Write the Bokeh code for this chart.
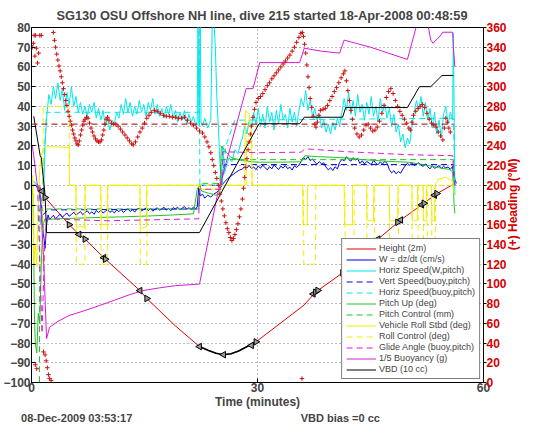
import numpy as np
from bokeh.plotting import figure
from bokeh.models import Range1d, LinearAxis, Legend, LegendItem, FixedTicker
from bokeh.embed import file_html
from bokeh.resources import INLINE

# ---------------- data ----------------
TITLE = "SG130 OSU Offshore NH line, dive 215 started 18-Apr-2008 00:48:59"
X_LABEL = "Time (minutes)"
HDG_LABEL = "(+) Heading (\u00b0M)"
NOTE_DATE = "08-Dec-2009 03:53:17"
NOTE_VBD = "VBD bias =0 cc"
X_TICKS = [0, 30, 60]
Y_TICKS = list(range(-100, 81, 10))
HDG_TICKS = list(range(0, 361, 20))

HEIGHT = [(1.0, 0), (1.4, -3.0), (1.8, -6.2), (5.0, -20.0), (6.3, -24.9), (7.1, -27.3), (9.7, -37.1),
          (14.4, -53.4), (15.3, -57.4), (19.1, -71.3), (22.3, -81.8), (23.5, -83.8), (24.5, -85.2),
          (25.5, -85.9), (26.5, -85.4), (27.5, -84.0), (28.5, -82.0), (29.8, -79.4), (36.2, -60.7),
          (37.7, -54.2), (41.3, -44.4), (46.0, -27.3), (49.0, -17.6), (52.0, -9.4), (53.7, -4.5), (55.9, 0.3)]
APOGEE = [(22.3, -81.8), (23.5, -83.8), (24.5, -85.2), (25.5, -85.9), (26.5, -85.4), (27.5, -84.0),
          (28.5, -82.0), (29.8, -79.4)]
TRI_LEFT = [(1.4, -3.0), (6.3, -24.9), (9.6, -36.7), (14.4, -53.4), (22.3, -81.8), (25.5, -85.9),
            (29.2, -81.2), (37.4, -55.1), (46.0, -27.3), (49.0, -17.6), (51.8, -9.9), (53.5, -5.0)]
TRI_RIGHT = [(1.8, -6.2), (5.0, -20.0), (7.1, -27.3), (9.8, -37.5), (15.3, -57.4), (29.8, -79.4),
             (37.7, -54.2), (38.0, -53.3), (41.3, -44.4), (48.6, -18.8), (52.1, -9.1), (53.8, -4.2)]

# W = dz/dt
W_START = [(0.0, 0), (0.6, 0), (1.0, -3), (1.3, -12), (1.6, -25), (1.8, -32), (2.0, -20), (2.2, -15), (2.4, -17.6)]
W_DESC_T0, W_STEP = 2.6, 0.3
W_DESC = [-16.5, -15.2, -17.0, -15.8, -14.6, -16.2, -15.0, -14.1, -15.7, -14.8,
          -13.6, -15.1, -14.2, -13.3, -14.9, -13.8, -12.9, -14.4, -13.5, -14.7,
          -12.8, -13.9, -12.6, -14.1, -13.2, -12.4, -13.7, -12.9, -14.0, -12.5,
          -13.4, -12.2, -13.8, -12.7, -11.9, -13.3, -12.4, -13.6, -12.1, -11.6,
          -13.0, -12.3, -11.5, -12.9, -11.8, -13.1, -12.2, -11.4, -12.7, -11.9,
          -11.2, -12.6, -11.7, -12.9, -11.3, -12.0, -11.1, -12.4, -11.6, -10.8,
          -12.1, -11.4, -12.3, -11.0, -11.8]
W_APO = [(22.0, -11), (22.2, -1.3), (22.4, -5.4), (22.7, -4.5), (23.0, -6.5), (23.4, -5.0), (23.8, -6.0),
         (24.2, -4.5), (24.6, -3.5), (25.0, -2.0), (25.3, 0.3), (25.7, 2.0), (26.1, 3.6), (26.6, 5.0),
         (27.1, 6.5), (27.6, 7.7)]
W_ASC_T0 = 28.0
W_ASC = [8.2, 9.6, 8.8, 10.1, 8.5, 9.3, 7.9, 9.8, 8.6, 10.2, 8.9, 7.8, 9.5, 8.3, 10.4, 9.1, 8.0, 9.7, 8.7, 10.0,
         8.4, 9.2, 7.7, 9.9, 9.0, 10.3,
         12.1, 14.2, 13.0, 14.6, 12.5, 13.4,
         11.8, 10.6, 12.0, 10.9, 11.4,
         9.2, 7.8, 8.9, 7.5, 9.4, 8.3,
         11.6, 13.2, 12.4, 14.5, 13.1, 12.2, 14.0, 12.8, 13.6,
         11.0, 12.4, 10.8, 12.1, 11.3, 10.5, 12.6, 11.2, 10.4, 11.9, 10.7, 12.2, 11.1,
         8.0, 6.3, 7.4, 5.8, 7.0, 6.1, 8.2,
         9.8, 11.2, 10.1, 11.6, 9.9, 10.8, 11.4, 10.2, 9.6, 10.9,
         9.4, 8.3, 9.9, 8.6, 9.2, 10.0, 8.5, 9.6, 8.8, 9.3, 8.1, 9.5]
W_END = [(56.0, 6), (56.2, 3), (56.4, 1)]

# Horizontal speed (W, pitch)
HS_START = [(0.2, 2), (0.6, 1), (1.0, -2), (1.3, -8), (1.6, -4), (1.8, 20)]
HS_DESC_T0, HS_STEP = 2.0, 0.3
HS_DESC = [34, 46, 41, 50, 44, 52, 43, 49, 38, 47,
           41, 50, 40, 45, 37, 42, 36, 40, 35, 41,
           37, 42, 34, 39, 33, 38, 30, 34, 28, 33,
           31, 37, 34, 41, 36, 44, 37, 42, 35, 40,
           36, 43, 37, 41, 35, 42, 38, 44, 36, 41,
           35, 39, 34, 40, 36, 41, 34, 38, 32, 37,
           33, 38, 31, 36, 32, 35, 30]
HS_APO = [(22.0, 33), (22.1, 85), (22.25, 30), (22.4, 85), (22.5, 32), (22.7, 30), (23.0, 34), (23.4, 29),
          (23.8, 33), (24.0, 85), (24.2, 85), (24.4, 70), (24.6, 45), (24.8, 30), (25.0, 12), (25.2, 2),
          (25.4, 20), (25.6, 6), (25.9, 10), (26.2, 14), (26.6, 12), (27.0, 18), (27.4, 16), (27.8, 22)]
HS_ASC_T0 = 28.0
HS_ASC = [24, 30, 26, 33, 29, 37, 31, 39, 30, 36,
          29, 40, 32, 37, 28, 38, 31, 41, 33, 36,
          29, 39, 32, 37, 30, 38, 44, 40, 48, 38,
          43, 35, 39, 33, 36, 29, 33, 27, 31, 26,
          32, 28, 34, 30, 37, 44, 38, 47, 36, 43,
          35, 46, 37, 41, 33, 42, 36, 45, 35, 40,
          32, 44, 37, 41, 34, 39, 30, 36, 27, 31,
          22, 26, 19, 24, 21, 30, 37, 43, 38, 45,
          35, 42, 33, 39, 29, 37, 26, 33, 24, 36,
          40, 31, 37, 33]
HS_END = [(56.0, 77), (56.1, 40), (56.2, -5)]

VERT_BUOY = [(1.0, 0), (1.5, -15), (2.2, -12.5), (22.2, -12), (22.4, 0), (25.2, 0), (25.6, 10.5),
             (56.0, 10.5), (56.2, 0)]
HS_BUOY = [(0.8, 0), (1.2, -20), (1.6, 10), (2.0, 37), (22.2, 37), (22.25, 85), (22.35, 0), (25.3, 0),
           (25.8, 20), (27.0, 33), (56.0, 34), (56.2, 0)]
PITCH = [(0.0, 0), (0.2, -5), (0.4, -68), (0.5, -80), (0.7, -85), (0.9, -65), (1.1, -70), (1.3, -40),
         (1.5, -20), (1.8, -17), (2.2, -17.5), (3, -17), (5, -16.8), (8, -16.4), (12, -16), (16, -15.5),
         (19, -15), (21.5, -14.5), (22.0, -2), (22.3, 0.3), (22.6, -3), (23.5, -4), (24.5, -5),
         (25.0, -4.5), (25.2, 19.9), (25.6, 18), (26.5, 14), (28, 12.5), (30, 11.7), (33, 11.7),
         (35.8, 11.9), (36.3, 15), (38, 14.5), (40, 14.2), (42, 13.8), (44, 13), (46, 12.5), (48, 12),
         (50, 11.7), (52, 10.5), (54, 9), (55.5, 8), (55.9, 6.8), (56.1, -10), (56.2, -14.3)]
PITCH_CTRL = [(1.05, -110), (1.1, -12), (22.2, -12), (22.4, 1), (25.0, 1), (25.2, 13), (56.0, 13), (56.1, 0)]
ROLL = [(0.0, 0), (0.15, 5), (0.3, -40), (0.5, -30), (0.7, -41), (0.9, -10), (1.1, 8), (1.3, 15), (1.6, 19),
        (2.0, 19.5), (3.5, 19.5), (5.0, 19), (5.05, 0), (5.9, 0), (5.95, -21), (7.05, -21), (7.1, 0),
        (9.2, 0), (9.25, -20), (10.05, -20), (10.1, 0), (14.4, 0), (14.45, -22), (15.25, -21), (15.3, 0),
        (22.2, 0), (22.4, -2), (25.4, -2), (25.6, 0), (28.3, 0), (28.4, 38), (28.9, 36), (29.0, 30),
        (29.2, 28), (29.3, 0), (36.0, 0), (36.05, -20), (36.6, -20), (36.65, 0), (41.5, 0), (41.55, -20),
        (42.6, -20), (42.65, 0), (44.5, 0), (44.55, -18), (45.4, -18), (45.45, 0), (47.5, 0), (47.55, -18),
        (48.6, -18), (48.65, 0), (50.5, 0), (50.55, -18), (51.2, -18), (51.25, 0), (52.0, 0), (52.05, -18),
        (52.4, -18), (52.45, 0), (53.1, 0), (53.15, -18), (53.5, -18), (53.55, 0), (54.0, 3), (55.0, 4),
        (55.9, 2), (56.1, -5)]
ROLL_CTRL = [(0.0, 0), (0.3, 0), (0.35, -40), (1.5, -40), (1.55, 40), (5.0, 40), (5.05, 0), (5.9, 0),
             (5.95, -40), (7.1, -40), (7.15, 0), (9.2, 0), (9.25, -40), (10.1, -40), (10.15, 0), (14.4, 0),
             (14.45, -40), (15.3, -40), (15.35, 0), (28.5, 0), (28.55, 25), (29.2, 25), (29.25, 0), (36.1, 0),
             (36.15, -40), (37.7, -40), (37.75, 0), (41.6, 0), (41.65, -40), (42.8, -40), (42.85, 0),
             (44.5, 0), (44.55, -40), (45.5, -40), (45.55, 0), (47.5, 0), (47.55, -40), (48.7, -40),
             (48.75, 0), (50.5, 0), (50.55, -40), (51.3, -40), (51.35, 0), (52.0, 0), (52.05, -40),
             (52.5, -40), (52.55, 0), (53.1, 0), (53.15, -40), (53.6, -40), (53.65, 0), (56.0, 0)]
GLIDE = [(0.8, 0), (1.1, -40), (1.4, -75), (1.7, -35), (2.0, -17), (10, -18), (22.2, -17), (22.3, -2),
         (25.2, -2), (25.4, 17), (30, 16.5), (35.8, 16.8), (36.3, 18.5), (42, 17), (50, 15.5), (55.9, 15),
         (56.2, 0)]
BUOY = [(0.1, 20), (0.3, 15), (0.73, 1.2), (1.15, -4.5), (1.6, -37), (2.0, -77.8), (2.4, -72), (3.5, -69),
        (5, -66), (6.7, -64), (9, -61), (11, -58.3), (13, -55.5), (14.8, -53.4), (17, -52), (19.1, -50.9),
        (22.3, -50.1), (24.7, -4.5), (28.5, 49), (29.4, 49), (30.3, 62.2), (35.6, 62.2), (36.2, 69.5),
        (38.5, 68), (40.9, 67), (41.5, 73.6), (45, 70), (49.9, 63.8), (51.4, 85), (51.7, 85), (52.6, 82),
        (53.0, 73.6), (53.3, 72), (53.7, 73.6), (54.1, 75), (54.6, 77.6), (55.9, 77.6), (56.0, 70),
        (56.2, 60)]
VBD = [(0.3, 35), (1.15, 15), (1.3, 14), (1.8, -5), (2.0, -24), (22.3, -24), (30.2, 31.2), (35.6, 31.2),
       (36.2, 34.5), (41.3, 34.5), (41.7, 39.4), (49.9, 39.4), (51.5, 50), (53.0, 50), (54.5, 55.7),
       (56.0, 55.7)]
HDG_TARGET = [(0.0, 262), (56.0, 262)]
HEADING = [(0.1, 340), (0.25, 344), (0.35, 352), (0.45, 331), (0.55, 352), (0.65, 339), (0.8, 324),
           (0.95, 334), (1.1, 352), (1.3, 352), (0.5, 18), (0.7, 14),
           (1.6, 31), (1.8, 28), (1.95, 22), (2.1, 15), (2.25, 8), (2.4, 4), (2.6, 2),
           (2.9, 355), (3.05, 347), (3.2, 340), (3.35, 333), (3.5, 327), (3.65, 321), (3.8, 316), (3.95, 310),
           (4.1, 304), (4.25, 298), (4.4, 292), (4.55, 286), (4.7, 281), (4.85, 275), (5.0, 270), (5.15, 265),
           (5.3, 261), (5.45, 256), (5.6, 252), (5.75, 248), (5.9, 245), (6.05, 242), (6.2, 241), (6.35, 245),
           (6.5, 251), (6.65, 256), (6.8, 261), (6.95, 265), (7.1, 267), (7.3, 269), (7.5, 268), (7.7, 263),
           (7.9, 258), (8.1, 254), (8.3, 250), (8.5, 247), (8.7, 245), (8.9, 244), (9.1, 244), (9.3, 246),
           (9.45, 251), (9.6, 256), (9.75, 262), (9.9, 267), (10.1, 269), (10.3, 266), (10.6, 263),
           (10.9, 262), (11.2, 262), (11.5, 260), (11.8, 257), (12.1, 254), (12.4, 251), (12.7, 248),
           (13.0, 245), (13.3, 242), (13.5, 241), (13.8, 244), (14.1, 249), (14.4, 254), (14.7, 258),
           (15.0, 263), (15.3, 268), (15.6, 271), (15.9, 274), (16.3, 276), (16.7, 275), (17.1, 273),
           (17.5, 271), (17.9, 270), (18.3, 270), (18.7, 269), (19.1, 269), (19.5, 268), (19.9, 268),
           (20.3, 269), (20.7, 266), (21.1, 263), (21.5, 261), (21.9, 258), (22.3, 255), (22.7, 253),
           (23.0, 249), (23.3, 244), (23.55, 239), (23.8, 233), (24.0, 226), (24.2, 220), (24.4, 213),
           (24.6, 207), (24.8, 200), (25.0, 191), (25.2, 184), (25.4, 176), (25.6, 169), (25.8, 162),
           (26.0, 156), (26.2, 152), (26.4, 147), (26.6, 144), (26.8, 146), (27.0, 150), (27.2, 155),
           (27.4, 161), (27.6, 168), (27.8, 176), (28.0, 186), (28.15, 197), (28.3, 208), (28.45, 218),
           (28.6, 227), (28.75, 236), (28.9, 244), (29.05, 252), (29.2, 260), (29.4, 269), (29.6, 277),
           (29.8, 284), (30.1, 288), (30.4, 290), (30.7, 293), (31.0, 297), (31.3, 301), (31.6, 304),
           (31.9, 308), (32.2, 311), (32.5, 314), (32.8, 317), (33.1, 320), (33.4, 323), (33.7, 326),
           (34.0, 329), (34.3, 332), (34.6, 336), (34.9, 340), (35.2, 345), (35.5, 350), (35.75, 354),
           (35.95, 355), (36.1, 351), (36.25, 343), (36.4, 334), (36.55, 322), (36.7, 310), (36.85, 299),
           (37.0, 288), (37.2, 279), (37.4, 270), (37.6, 262), (37.75, 259), (37.95, 264), (38.15, 271),
           (38.35, 276), (38.7, 277), (39.0, 278), (39.3, 281), (39.6, 286), (39.9, 290), (40.2, 295),
           (40.5, 299), (40.8, 304), (41.1, 309), (41.4, 313), (41.6, 316),
           (41.8, 306), (42.0, 296), (42.2, 286), (42.4, 276), (42.6, 267), (42.9, 258), (43.2, 252),
           (43.5, 249), (43.8, 251), (44.1, 256), (44.4, 261), (44.7, 262), (45.0, 258), (45.3, 255),
           (45.6, 256), (45.9, 259), (46.2, 265), (46.5, 273), (46.8, 281), (47.1, 289), (47.4, 295),
           (47.7, 298), (48.0, 293), (48.3, 286), (48.6, 280), (48.9, 275), (49.2, 271), (49.5, 267),
           (49.8, 263), (50.1, 258), (50.3, 256), (50.5, 264), (50.7, 271), (51.0, 275), (51.3, 278),
           (51.6, 280), (51.9, 282), (52.2, 279), (52.5, 273), (52.8, 267), (53.1, 263), (53.4, 261),
           (53.7, 259), (54.0, 254), (54.3, 250), (54.6, 246), (54.8, 258), (55.0, 268), (55.2, 264),
           (55.4, 258), (55.6, 254), (35.9, 4)]

# ---------------- helpers ----------------
def unz(pairs):
    a = np.array(pairs, dtype=float)
    return a[:, 0], a[:, 1]

def grid_series(t0, step, vals):
    return t0 + step * np.arange(len(vals)), np.array(vals, dtype=float)

def join(*parts):
    xs = np.concatenate([q[0] for q in parts])
    ys = np.concatenate([q[1] for q in parts])
    return xs, ys

FONT = "Liberation Sans"
RED = "#e00000"
LBLRED = "#d40000"
BLUE = "#0000e6"
CYAN = "#00e8e8"
GREEN = "#22c422"
YELLOW = "#f0f000"
MAGENTA = "#d81ad8"

p = figure(width=530, height=426, output_backend="svg", toolbar_location=None,
           x_range=Range1d(0, 60), y_range=Range1d(-100, 80),
           min_border_left=25, min_border_right=38, min_border_top=27, min_border_bottom=36,
           background_fill_color="white", border_fill_color="white")
p.extra_y_ranges = {"hdg": Range1d(0, 360)}
p.outline_line_color = "black"
p.outline_line_width = 1

p.title.text = TITLE
p.title.align = "left"
p.title.offset = 25
p.title.text_font = FONT
p.title.text_font_style = "bold"
p.title.text_font_size = "12.8px"
p.title.standoff = 10

# axes
xa = p.xaxis[0]
xa.ticker = FixedTicker(ticks=X_TICKS)
xa.axis_label = X_LABEL
xa.axis_label_text_font = FONT
xa.axis_label_text_font_style = "bold"
xa.axis_label_text_font_size = "12px"
xa.axis_label_standoff = 0
xa.major_label_text_font = FONT
xa.major_label_text_font_style = "bold"
xa.major_label_text_font_size = "12px"
xa.major_label_standoff = 0
xa.major_tick_in = 4
xa.major_tick_out = 0
xa.minor_tick_line_color = None

ya = p.yaxis[0]
ya.ticker = FixedTicker(ticks=Y_TICKS)
ya.major_label_text_font = FONT
ya.major_label_text_font_style = "bold"
ya.major_label_text_font_size = "12px"
ya.major_label_standoff = 1
ya.major_tick_in = 4
ya.major_tick_out = 0
ya.minor_tick_line_color = None

ra = LinearAxis(y_range_name="hdg", ticker=FixedTicker(ticks=HDG_TICKS))
ra.major_label_text_font = FONT
ra.major_label_text_font_style = "bold"
ra.major_label_text_font_size = "12px"
ra.major_label_text_color = LBLRED
ra.major_label_standoff = 0
ra.major_tick_in = 0
ra.major_tick_out = 3
ra.minor_tick_line_color = None
p.add_layout(ra, "right")

# rotated heading label: a single rotated tick label on a line-less outer axis
HDG_LABEL_POS = {-33: HDG_LABEL}
la = LinearAxis(ticker=FixedTicker(ticks=list(HDG_LABEL_POS.keys())))
la.major_label_overrides = HDG_LABEL_POS
la.major_label_orientation = np.pi / 2
la.axis_line_color = None
la.major_tick_line_color = None
la.major_tick_in = 0
la.major_tick_out = 0
la.minor_tick_line_color = None
la.minor_tick_in = 0
la.minor_tick_out = 0
la.major_label_standoff = 4
la.major_label_text_font = FONT
la.major_label_text_font_style = "bold"
la.major_label_text_font_size = "12px"
la.major_label_text_color = LBLRED
p.add_layout(la, "right")

# bottom notes as an extra, line-less axis
NOTE_POS = {6: NOTE_DATE, 41: NOTE_VBD}
na = LinearAxis(ticker=FixedTicker(ticks=list(NOTE_POS.keys())))
na.major_label_overrides = NOTE_POS
na.axis_line_color = None
na.major_tick_line_color = None
na.major_tick_in = 0
na.major_tick_out = 0
na.minor_tick_line_color = None
na.minor_tick_in = 0
na.minor_tick_out = 0
na.major_label_standoff = 0
na.major_label_text_font = FONT
na.major_label_text_font_style = "bold"
na.major_label_text_font_size = "11px"
p.add_layout(na, "below")

p.xgrid[0].ticker = FixedTicker(ticks=[30])
p.ygrid[0].ticker = FixedTicker(ticks=Y_TICKS)
for g in (p.xgrid[0], p.ygrid[0]):
    g.grid_line_color = "#777777"
    g.grid_line_dash = "1 3"
    g.grid_line_width = 1

# series
hx, hy = unz(HEIGHT)
r_height = p.line(hx, hy, line_color=RED, line_width=1)
wx, wy = join(unz(W_START), grid_series(W_DESC_T0, W_STEP, W_DESC), unz(W_APO),
              grid_series(W_ASC_T0, W_STEP, W_ASC), unz(W_END))
r_w = p.line(wx, wy, line_color=BLUE, line_width=1)
sx, sy = join(unz(HS_START), grid_series(HS_DESC_T0, HS_STEP, HS_DESC), unz(HS_APO),
              grid_series(HS_ASC_T0, HS_STEP, HS_ASC), unz(HS_END))
r_hs = p.line(sx, sy, line_color=CYAN, line_width=1)
vx, vy = unz(VERT_BUOY)
r_vb = p.line(vx, vy, line_color=BLUE, line_dash="6 4", line_width=1)
bx, by = unz(HS_BUOY)
r_hb = p.line(bx, by, line_color=CYAN, line_dash="6 4", line_width=1)
px_, py_ = unz(PITCH)
r_pitch = p.line(px_, py_, line_color=GREEN, line_width=1)
cx, cy = unz(PITCH_CTRL)
r_pc = p.line(cx, cy, line_color=GREEN, line_dash="6 4", line_width=1)
rx, ry = unz(ROLL)
r_roll = p.line(rx, ry, line_color=YELLOW, line_width=1)
rcx, rcy = unz(ROLL_CTRL)
r_rc = p.line(rcx, rcy, line_color=YELLOW, line_dash="6 4", line_width=1)
gx, gy = unz(GLIDE)
r_glide = p.line(gx, gy, line_color=MAGENTA, line_dash="6 4", line_width=1)
ux, uy = unz(BUOY)
r_buoy = p.line(ux, uy, line_color=MAGENTA, line_width=1)
kx, ky = unz(VBD)
r_vbd = p.line(kx, ky, line_color="black", line_width=1)

tx, ty = unz(HDG_TARGET)
p.line(tx, ty, y_range_name="hdg", line_color="#990000", line_dash="6 4", line_width=1)
hdx, hdy = unz(HEADING)
p.scatter(hdx, hdy, y_range_name="hdg", marker="cross", size=4.5, line_color="#cc1010", line_width=1)

ax_, ay_ = unz(APOGEE)
p.line(ax_, ay_, line_color="black", line_width=1.6)
lx, ly = unz(TRI_LEFT)
p.scatter(lx, ly, marker="triangle", angle=np.pi / 2, size=6.5, line_color="black",
          fill_color="#9a9a9a", line_width=1)
rx2, ry2 = unz(TRI_RIGHT)
p.scatter(rx2, ry2, marker="triangle", angle=-np.pi / 2, size=6.5, line_color="black",
          fill_color="#9a9a9a", line_width=1)

legend = Legend(items=[
    LegendItem(label="Height (2m)", renderers=[r_height]),
    LegendItem(label="W = dz/dt (cm/s)", renderers=[r_w]),
    LegendItem(label="Horiz Speed(W,pitch)", renderers=[r_hs]),
    LegendItem(label="Vert Speed(buoy,pitch)", renderers=[r_vb]),
    LegendItem(label="Horiz Speed(buoy,pitch)", renderers=[r_hb]),
    LegendItem(label="Pitch Up (deg)", renderers=[r_pitch]),
    LegendItem(label="Pitch Control (mm)", renderers=[r_pc]),
    LegendItem(label="Vehicle Roll Stbd (deg)", renderers=[r_roll]),
    LegendItem(label="Roll Control (deg)", renderers=[r_rc]),
    LegendItem(label="Glide Angle (buoy,pitch)", renderers=[r_glide]),
    LegendItem(label="1/5 Buoyancy (g)", renderers=[r_buoy]),
    LegendItem(label="VBD (10 cc)", renderers=[r_vbd]),
], location="bottom_right")
legend.label_text_font = FONT
legend.label_text_font_size = "9px"
legend.label_height = 9
legend.glyph_height = 9
legend.glyph_width = 30
legend.label_standoff = 3
legend.spacing = 1
legend.padding = 4
legend.margin = 3
legend.border_line_color = "black"
legend.border_line_width = 1
legend.background_fill_color = "white"
legend.background_fill_alpha = 1
p.add_layout(legend)

open("out.html", "w").write(file_html(p, INLINE))
